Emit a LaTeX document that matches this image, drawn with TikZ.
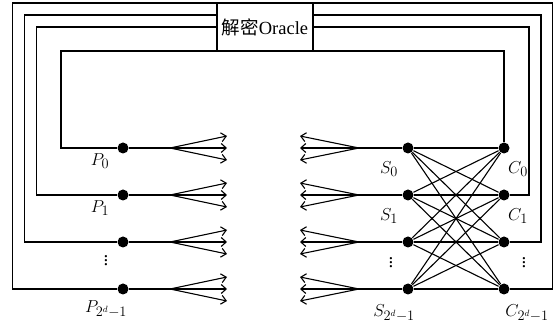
\documentclass[tikz,border=0pt]{standalone}
\usepackage{fontspec}
\setmainfont{Liberation Serif}
\newfontfamily\cjk{Noto Sans CJK SC}
\usetikzlibrary{arrows.meta}

\tikzset{
  dot/.style={circle, fill=black, inner sep=0pt, minimum size=11pt},
  lbl/.style={font=\fontsize{19}{22}\selectfont, inner sep=0pt},
  fan/.style={-{Straight Barb[length=5pt,width=9pt]}},
  oraclebox/.style={rectangle, draw, fill=white, minimum width=96pt,
    minimum height=48pt, inner sep=0pt, font=\fontsize{18.5}{22}\selectfont},
}

\begin{document}
\begin{tikzpicture}[x=1pt, y=-1pt, line width=1.1pt]
        \useasboundingbox (0,0) rectangle (557,328);

        % Nodes
        \node (p0) [dot] at (123,148) {};
        \node (p1) [dot] at (123,195) {};
        \node (p2) [dot] at (123,242) {};
        \node (p3) [dot] at (123,289) {};

        \node (s0) [dot] at (408,148) {};
        \node (s1) [dot] at (408,195) {};
        \node (s2) [dot] at (408,242) {};
        \node (s3) [dot] at (408,289) {};

        \node (c0) [dot] at (504,148) {};
        \node (c1) [dot] at (504,195) {};
        \node (c2) [dot] at (504,242) {};
        \node (c3) [dot] at (504,289) {};

        % Fan points
        \coordinate (pf0) at (170,148);
        \coordinate (pf1) at (170,195);
        \coordinate (pf2) at (170,242);
        \coordinate (pf3) at (170,289);
        \coordinate (sf0) at (359,148);
        \coordinate (sf1) at (359,195);
        \coordinate (sf2) at (359,242);
        \coordinate (sf3) at (359,289);

        % Loops through the oracle
        \draw (p0) -| (61,51) -| (c0);
        \draw (p1) -| (36.5,27) -| (529,195) -- (c1);
        \draw (p2) -| (24.5,15) -| (541,242) -- (c2);
        \draw (p3) -| (12.5,3) -| (552.5,289) -- (c3);

        \node (oracle) [oraclebox] at (265,27) {{\cjk 解密}Oracle};

        % Edges
        \foreach \i in {0,...,3} {
          \draw (p\i) -- (pf\i);
          \draw[fan] (pf\i) -- ++(57,-12);
          \draw[fan] (pf\i) -- ++(57,0);
          \draw[fan] (pf\i) -- ++(57,12);
          \draw (s\i) -- (sf\i);
          \draw[fan] (sf\i) -- ++(-59,-12);
          \draw[fan] (sf\i) -- ++(-59,0);
          \draw[fan] (sf\i) -- ++(-59,12);
          \foreach \j in {0,...,3}
            \draw (s\i) -- (c\j);
        }

        % Labels
        \node (p0lbl) [lbl] at (100,161) {\(P_0\)};
        \node (p1lbl) [lbl] at (100,208) {\(P_1\)};
        \node (p2lbl) [lbl] at (106,258) {\(\vdots\)};
        \node (p3lbl) [lbl] at (106,309) {\(P_{2^d-1}\)};

        \node (s0lbl) [lbl] at (389,169) {\(S_0\)};
        \node (s1lbl) [lbl] at (389,216) {\(S_1\)};
        \node (s2lbl) [lbl] at (391,260) {\(\vdots\)};
        \node (s3lbl) [lbl] at (394,313) {\(S_{2^d-1}\)};

        \node (c0lbl) [lbl] at (518,169) {\(C_0\)};
        \node (c1lbl) [lbl] at (518,216) {\(C_1\)};
        \node (c2lbl) [lbl] at (524,260) {\(\vdots\)};
        \node (c3lbl) [lbl] at (527,313) {\(C_{2^d-1}\)};

    \end{tikzpicture}
\end{document}
